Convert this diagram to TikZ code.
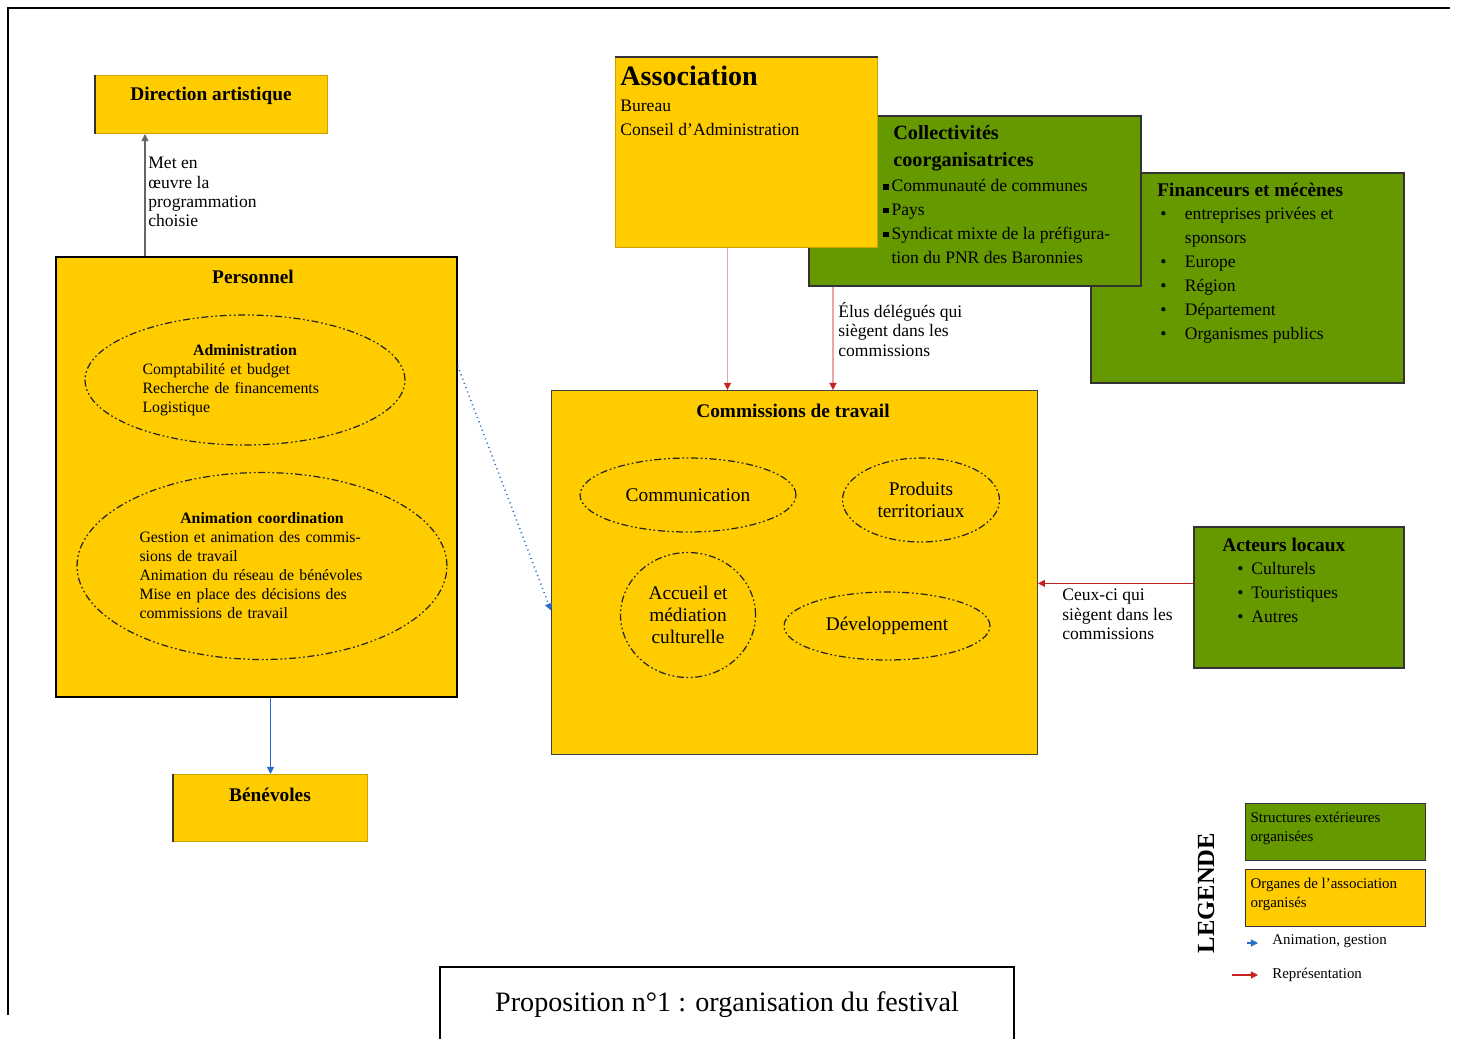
\documentclass[tikz,border=0pt]{standalone}
\usepackage{fontspec}
\setmainfont{Liberation Serif}
\usetikzlibrary{shapes.geometric,arrows.meta,positioning}

\definecolor{jaune}{RGB}{255,204,0}
\definecolor{vert}{RGB}{102,153,0}
\definecolor{rouge}{RGB}{200,35,35}
\definecolor{bleu}{RGB}{40,110,200}

\newcommand{\pucecarre}{\rule[0.25ex]{3pt}{3pt}\,}
\newcommand{\pucerond}{\makebox[14pt][l]{\textbullet}}
\newcommand{\titrebulle}[1]{\hspace*{\fill}\textbf{#1}\hspace*{\fill}\mbox{}\\}

\tikzset{
  organe/.style={draw=black!75, fill=jaune, line width=0.6pt, anchor=north west, inner sep=0pt},
  partenaire/.style={draw=black!80, fill=vert, line width=1pt, anchor=north west, inner sep=0pt},
  bulle/.style={ellipse, draw=black!85, line width=0.7pt, inner sep=0pt,
    dash pattern=on 4pt off 1.5pt on 1pt off 1.5pt on 1pt off 1.5pt},
  titre/.style={font=\bfseries\fontsize{11}{13}\selectfont, inner sep=0pt},
  texte/.style={font=\fontsize{10}{13.6}\selectfont, align=left, inner sep=0pt, anchor=north west},
  petit/.style={font=\fontsize{9}{10.8}\selectfont, align=left, inner sep=0pt},
  etiquette/.style={font=\fontsize{10}{11}\selectfont, align=left, inner sep=0pt, anchor=north west},
  fleche/.style={-{Triangle[length=4pt,width=4pt]}, line width=0.6pt},
  fleche pale/.style={-{Triangle[length=4pt,width=4pt,color=rouge]}, line width=0.6pt, rouge!40}
}

\begin{document}
\begin{tikzpicture}[x=0.02cm, y=-0.02cm]
    \useasboundingbox (0,0) rectangle (1458,1039);

    % Page frame
    \draw[line width=1.2pt] (8,1015) -- (8,8) -- (1450,8);

    % Partners (green)
    \node[partenaire, minimum width=6.26cm, minimum height=4.2cm] (financ) at (1090,172) {};
    \node[partenaire, minimum width=6.64cm, minimum height=3.4cm] (collect) at (808,115) {};
    \node[partenaire, minimum width=4.2cm, minimum height=2.82cm] (acteurs) at (1193,526) {};

    % Organs (yellow)
    \node[organe, draw=jaune!80!black, minimum width=4.64cm, minimum height=1.16cm] (dirart) at (95,75) {};
    \draw[line width=1.2pt, black!80] (dirart.north west) -- (dirart.south west);
    \node[organe, draw=jaune!80!black, minimum width=5.24cm, minimum height=3.8cm] (asso) at (615,57) {};
    \draw[line width=1.2pt, black!80] (asso.north west) -- (asso.north east);
    \node[organe, draw=black, line width=1pt, minimum width=8.02cm, minimum height=8.8cm] (perso) at (55,256) {};
    \node[organe, minimum width=9.72cm, minimum height=7.28cm] (commis) at (551,390) {};
    \node[organe, draw=jaune!80!black, minimum width=3.88cm, minimum height=1.34cm] (benev) at (173,774) {};
    \draw[line width=1.2pt, black!80] (benev.north west) -- (benev.south west);

    % Titles
    \node[titre] (t-dirart) at (211,96) {Direction artistique};
    \node[texte] (t-asso) at (620,66) {{\bfseries\fontsize{16}{18}\selectfont Association}\\[1pt]Bureau\\Conseil d'Administration};
    \node[titre, anchor=north west, align=left, font=\bfseries\fontsize{11.5}{15.4}\selectfont] (t-collect) at (893,125) {Collectivités\\coorganisatrices};
    \node[texte] (l-collect) at (883,179) {\pucecarre Communauté de communes\\\pucecarre Pays\\\pucecarre Syndicat mixte de la préfigura-\\\phantom{\pucecarre}tion du PNR des Baronnies};
    \node[titre, anchor=north west] (t-financ) at (1157,183) {Financeurs et mécènes};
    \node[texte] (l-financ) at (1160,207) {\pucerond entreprises privées et\\\hspace*{14pt}sponsors\\\pucerond Europe\\\pucerond Région\\\pucerond Département\\\pucerond Organismes publics};
    \node[titre, anchor=north west] (t-acteurs) at (1222,538) {Acteurs locaux};
    \node[texte] (l-acteurs) at (1237,562) {\makebox[8pt][l]{\textbullet}Culturels\\\makebox[8pt][l]{\textbullet}Touristiques\\\makebox[8pt][l]{\textbullet}Autres};
    \node[titre] (t-perso) at (253,277) {Personnel};
    \node[titre] (t-commis) at (793,411) {Commissions de travail};
    \node[titre] (t-benev) at (270,795) {Bénévoles};

    % Staff bubbles
    \node[bulle, petit, text width=4.1cm, minimum width=6.4cm, minimum height=2.6cm] (admin) at (245,380)
        {\titrebulle{Administration}Comptabilité et budget\\Recherche de financements\\Logistique};
    \node[bulle, petit, text width=4.9cm, minimum width=7.4cm, minimum height=3.74cm] (anim) at (262,566)
        {\titrebulle{Animation coordination}Gestion et animation des commis-\\sions de travail\\Animation du réseau de bénévoles\\Mise en place des décisions des\\commissions de travail};

    % Commission bubbles
    \tikzset{bulle com/.style={bulle, align=center, font=\fontsize{11}{12.5}\selectfont}}
    \node[bulle com, minimum width=4.32cm, minimum height=1.48cm] (communic) at (688,495) {Communication};
    \node[bulle com, minimum width=3.14cm, minimum height=1.68cm] (produits) at (921,500) {Produits\\territoriaux};
    \node[bulle com, minimum width=2.7cm, minimum height=2.5cm] (accueil) at (688,615) {Accueil et\\médiation\\culturelle};
    \node[bulle com, minimum width=4.12cm, minimum height=1.36cm] (devel) at (887,626) {Développement};

    % Connectors
    \draw[fleche, black!60] ([xshift=1.8cm]perso.north west) -- ([xshift=1.8cm]perso.north west |- dirart.south);
    \node[etiquette] (l-dirart) at (148,157) {Met en\\œuvre la\\programmation\\choisie};
    \draw[fleche pale] ([xshift=-0.38cm]asso.south) -- ([xshift=-0.38cm]asso.south |- commis.north);
    \draw[fleche pale] ([xshift=0.5cm]collect.south west) -- ([xshift=0.5cm]collect.south west |- commis.north);
    \node[etiquette] (l-elus) at (838,302) {Élus délégués qui\\siègent dans les\\commissions};
    \draw[fleche, rouge] ([yshift=0.28cm]acteurs.west) -- ([yshift=0.28cm]acteurs.west -| commis.east);
    \node[etiquette] (l-acteurs) at (1062,589) {Ceux-ci qui\\siègent dans les\\commissions};
    \draw[fleche, bleu, dotted, line width=0.9pt] ([yshift=2.22cm]perso.east) -- ([yshift=-0.76cm]commis.west);
    \draw[fleche, bleu] (perso.south -| benev.north) -- (benev.north);

    % Legend
    \node[rotate=90, font=\bfseries\fontsize{14}{16}\selectfont, inner sep=0pt] (legende) at (1206,893) {LEGENDE};
    \node[partenaire, line width=0.8pt, minimum width=3.6cm, minimum height=1.14cm] (leg-vert) at (1245,803) {};
    \node[texte, font=\fontsize{8.5}{11}\selectfont] (t-leg-vert) at ([xshift=3pt,yshift=-5pt]leg-vert.north west) {Structures extérieures\\organisées};
    \node[organe, draw=black!80, line width=0.8pt, minimum width=3.6cm, minimum height=1.14cm] (leg-jaune) at (1245,869) {};
    \node[texte, font=\fontsize{8.5}{11}\selectfont] (t-leg-jaune) at ([xshift=3pt,yshift=-5pt]leg-jaune.north west) {Organes de l'association\\organisés};
    \coordinate (leg-bleu-a) at (1247,943);
    \coordinate (leg-bleu-b) at (1258,943);
    \draw[fleche, bleu] (leg-bleu-a) -- (leg-bleu-b);
    \node[etiquette, anchor=west, font=\fontsize{8.5}{10}\selectfont] (t-leg-bleu) at (1272,941) {Animation, gestion};
    \coordinate (leg-rouge-a) at (1232,975);
    \coordinate (leg-rouge-b) at (1258,975);
    \draw[fleche, rouge] (leg-rouge-a) -- (leg-rouge-b);
    \node[etiquette, anchor=west, font=\fontsize{8.5}{10}\selectfont] (t-leg-rouge) at (1272,975) {Représentation};

    % Caption
    \draw[line width=0.8pt] (440,1039) |- (1014,967) -- (1014,1039);
    \node[font=\fontsize{16}{18}\selectfont, inner sep=0pt] (legende-titre) at (727,1005) {Proposition n°1 : organisation du festival};
\end{tikzpicture}
\end{document}
